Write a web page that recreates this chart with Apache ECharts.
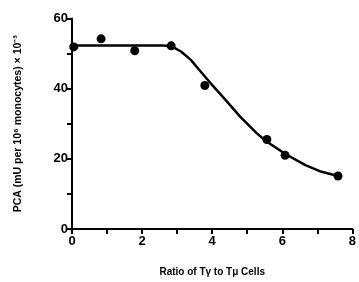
<!DOCTYPE html>
<html>
<head>
<meta charset="utf-8">
<script src="https://cdn.jsdelivr.net/npm/echarts@6/dist/echarts.min.js"></script>
<style>
  html, body { margin: 0; padding: 0; background: #fff; }
  #chart { width: 359px; height: 282px; }
</style>
</head>
<body>
<div id="chart"></div>
<script>
// measured points (ratio, PCA)
const pointX = [0.05, 0.83, 1.79, 2.83, 3.79, 5.56, 6.08, 7.59]
const pointY = [51.9, 54.2, 50.8, 52.2, 40.9, 25.5, 21.0, 15.1]
// fitted curve
const curveX = [0, 1, 2, 2.6, 2.83, 3.11, 3.39, 3.67, 3.95, 4.33, 4.79, 5.26, 5.54, 6.10, 6.66, 7.12, 7.59]
const curveY = [52.3, 52.3, 52.3, 52.3, 52.1, 50.6, 48.2, 44.9, 41.6, 37.4, 32.1, 27.4, 25.0, 21.3, 18.2, 16.3, 15.1]

const font = 'Liberation Sans'
const chart = echarts.init(document.getElementById('chart'))

chart.setOption({
  animation: false,
  grid: { left: 72, top: 18.5, right: 2, bottom: 52 },
  xAxis: {
    type: 'value',
    min: 0,
    max: 8,
    interval: 2,
    name: 'Ratio of Tγ to Tμ Cells',
    nameLocation: 'middle',
    nameGap: 38,
    nameTextStyle: { color: '#000', fontFamily: font, fontWeight: 'bold', fontSize: 10 },
    axisLine: { show: true, lineStyle: { color: '#000', width: 2 } },
    axisTick: { show: true, length: 5, lineStyle: { color: '#000', width: 2 } },
    minorTick: { show: true, splitNumber: 2, length: 5, lineStyle: { color: '#000', width: 2 } },
    axisLabel: { color: '#000', fontFamily: font, fontWeight: 'bold', fontSize: 13, margin: 6 },
    splitLine: { show: false }
  },
  yAxis: {
    type: 'value',
    min: 0,
    max: 60,
    interval: 20,
    name: 'PCA (mU per 10⁶ monocytes) × 10⁻³',
    nameLocation: 'middle',
    nameGap: 48,
    nameTextStyle: { color: '#000', fontFamily: font, fontWeight: 'bold', fontSize: 10.5 },
    axisLine: { show: true, lineStyle: { color: '#000', width: 2 } },
    axisTick: { show: true, length: 5, lineStyle: { color: '#000', width: 2 } },
    minorTick: { show: true, splitNumber: 2, length: 5, lineStyle: { color: '#000', width: 2 } },
    axisLabel: { color: '#000', fontFamily: font, fontWeight: 'bold', fontSize: 13, margin: 4 },
    splitLine: { show: false }
  },
  series: [
    {
      name: 'fit',
      type: 'line',
      data: curveX.map((x, i) => [x, curveY[i]]),
      smooth: false,
      showSymbol: false,
      lineStyle: { color: '#000', width: 2.5, join: 'round' },
      z: 2
    },
    {
      name: 'data',
      type: 'scatter',
      data: pointX.map((x, i) => [x, pointY[i]]),
      symbolSize: 9,
      itemStyle: { color: '#000', opacity: 1 },
      z: 3
    }
  ]
})
</script>
</body>
</html>
